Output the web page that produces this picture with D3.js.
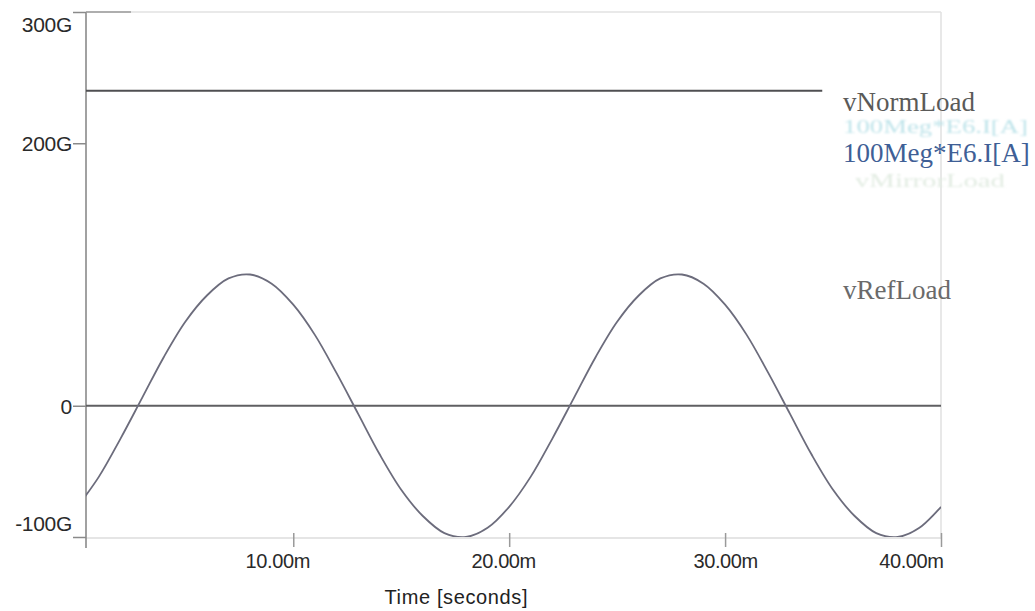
<!DOCTYPE html>
<html>
<head>
<meta charset="utf-8">
<script src="https://cdn.jsdelivr.net/npm/d3@7"></script>
<style>
  html, body { margin: 0; padding: 0; background: #fff; }
  svg { display: block; }
</style>
</head>
<body>
<svg id="chart" width="1035" height="611"></svg>
<script>
// Time samples in milliseconds and the reference load voltage in G units
const refTime = [0, 1, 2, 3, 4, 5, 6, 7, 8, 9, 10, 11, 12, 13, 14, 15, 16, 17, 18, 19, 20,
                 21, 22, 23, 24, 25, 26, 27, 28, 29, 30, 31, 32, 33, 34, 35, 36, 37, 38, 39, 40];
const refLoad = [-77, -54, -25, 6, 37, 64, 84, 97, 100, 93, 77, 54, 25, -6, -37, -64, -84, -97, -100, -93, -77,
                 -54, -25, 6, 37, 64, 84, 97, 100, 93, 77, 54, 25, -6, -37, -64, -84, -97, -100, -93, -77];

// Normalised load voltage (flat trace)
const normTime = [0.4, 34.5];
const normLoad = [240, 240];

// Scaled current trace 100Meg*E6.I[A]
const currTime = [0.4, 40];
const currLoad = [0, 0];

// Axis ticks
const xTicks = [10, 20, 30, 40];
const xTickLabels = ["10.00m", "20.00m", "30.00m", "40.00m"];
const yTicks = [300, 200, 0, -100];
const yTickLabels = ["300G", "200G", "0", "-100G"];

// Legend entries
const legendNames = ["vNormLoad", "100Meg*E6.I[A]", "100Meg*E6.I[A]", "vMirrorLoad", "vRefLoad"];

const svg = d3.select("#chart");
const plotL = 86, plotR = 941, plotT = 12, plotB = 537;

const x = d3.scaleLinear().domain([0.4, 40]).range([plotL, plotR]);
const y = d3.scaleLinear().domain([-100, 300]).range([plotB, plotT]);

const sans = "'Liberation Sans', Arial, sans-serif";
const serif = "'Liberation Serif', 'DejaVu Serif', serif";

// Soft blur for the faded legend entries
svg.append("defs").append("filter").attr("id", "fade")
  .append("feGaussianBlur").attr("stdDeviation", 0.9);

// Plot frame
svg.append("line").attr("x1", plotL).attr("x2", plotR).attr("y1", plotT).attr("y2", plotT)
  .attr("stroke", "#e2e2e2").attr("stroke-width", 1.5);
svg.append("line").attr("x1", plotR).attr("x2", plotR).attr("y1", plotT).attr("y2", plotB + 2)
  .attr("stroke", "#e0e0e0").attr("stroke-width", 1.5);
svg.append("line").attr("x1", plotL).attr("x2", plotR).attr("y1", plotB + 1).attr("y2", plotB + 1)
  .attr("stroke", "#dcdcdc").attr("stroke-width", 1.5);

// Y axis
const yAxis = d3.axisLeft(y).tickValues(yTicks).tickSize(13).tickPadding(1)
  .tickFormat((d, i) => yTickLabels[i]);
const gy = svg.append("g").attr("transform", `translate(${plotL},0)`).call(yAxis);
gy.select(".domain").attr("stroke", "#8a8a8a").attr("stroke-width", 1.6)
  .attr("d", `M0,${plotT}V${plotB + 11}`);
gy.selectAll(".tick line").attr("stroke", "#8a8a8a").attr("stroke-width", 1.5);
gy.selectAll(".tick text")
  .attr("font-family", sans).attr("font-size", 21).attr("fill", "#2a2a2a")
  .attr("letter-spacing", "-0.3")
  .attr("dy", d => d === 300 ? "0.95em" : d === -100 ? "-0.3em" : "0.35em");
// Top tick extends slightly into the frame
svg.append("line").attr("x1", plotL).attr("x2", plotL + 45).attr("y1", plotT).attr("y2", plotT)
  .attr("stroke", "#9a9a9a").attr("stroke-width", 1.5);

// X axis
const xAxis = d3.axisBottom(x).tickValues(xTicks).tickSize(10).tickPadding(7)
  .tickFormat((d, i) => xTickLabels[i]);
const gx = svg.append("g").attr("transform", `translate(0,${plotB})`).call(xAxis);
gx.select(".domain").remove();
gx.selectAll(".tick line").attr("stroke", "#9a9a9a").attr("stroke-width", 1.5).attr("y1", -4);
gx.selectAll(".tick text")
  .attr("font-family", sans).attr("font-size", 20).attr("fill", "#2a2a2a")
  .attr("letter-spacing", "-0.4")
  .attr("text-anchor", d => d === 40 ? "end" : "middle")
  .attr("dx", d => d === 40 ? "0.1em" : d === 10 ? "-0.8em" : d === 20 ? "-0.3em" : "0");

svg.append("text").attr("x", 456).attr("y", 604).attr("text-anchor", "middle")
  .attr("font-family", sans).attr("font-size", 20).attr("fill", "#222")
  .attr("textLength", 143).text("Time [seconds]");

// Traces
const line = d3.line().x(d => x(d[0])).y(d => y(d[1]));
svg.select("defs").append("clipPath").attr("id", "plotClip")
  .append("rect").attr("x", plotL).attr("y", plotT).attr("width", plotR - plotL).attr("height", plotB - plotT);

const traces = svg.append("g").attr("clip-path", "url(#plotClip)").attr("fill", "none");
traces.append("path").datum(d3.zip(currTime, currLoad)).attr("d", line)
  .attr("stroke", "#5f5f62").attr("stroke-width", 2);
traces.append("path").datum(d3.zip(normTime, normLoad)).attr("d", line)
  .attr("stroke", "#4f4f52").attr("stroke-width", 2);
traces.append("path").datum(d3.zip(refTime, refLoad))
  .attr("d", line.curve(d3.curveCatmullRom))
  .attr("stroke", "#6c6c7c").attr("stroke-width", 1.8);

// Legend labels: solid entries and two faded ones in between
const legendY = [111, 133, 162, 187, 299];
const legendSize = [27, 19, 27, 19, 27];
const legendColor = ["#5a5a58", "#bfe4ea", "#3f5f96", "#e2ece2", "#6a6a6a"];
const legendWidth = [null, 185, null, 150, null];
svg.append("g").selectAll("text").data(legendNames).join("text")
  .attr("x", (d, i) => i === 3 ? 855 : 843).attr("y", (d, i) => legendY[i])
  .attr("font-family", serif)
  .attr("font-size", (d, i) => legendSize[i])
  .attr("fill", (d, i) => legendColor[i])
  .attr("textLength", (d, i) => legendWidth[i])
  .attr("lengthAdjust", (d, i) => legendWidth[i] ? "spacingAndGlyphs" : null)
  .attr("filter", (d, i) => legendWidth[i] ? "url(#fade)" : null)
  .text(d => d);
</script>
</body>
</html>
